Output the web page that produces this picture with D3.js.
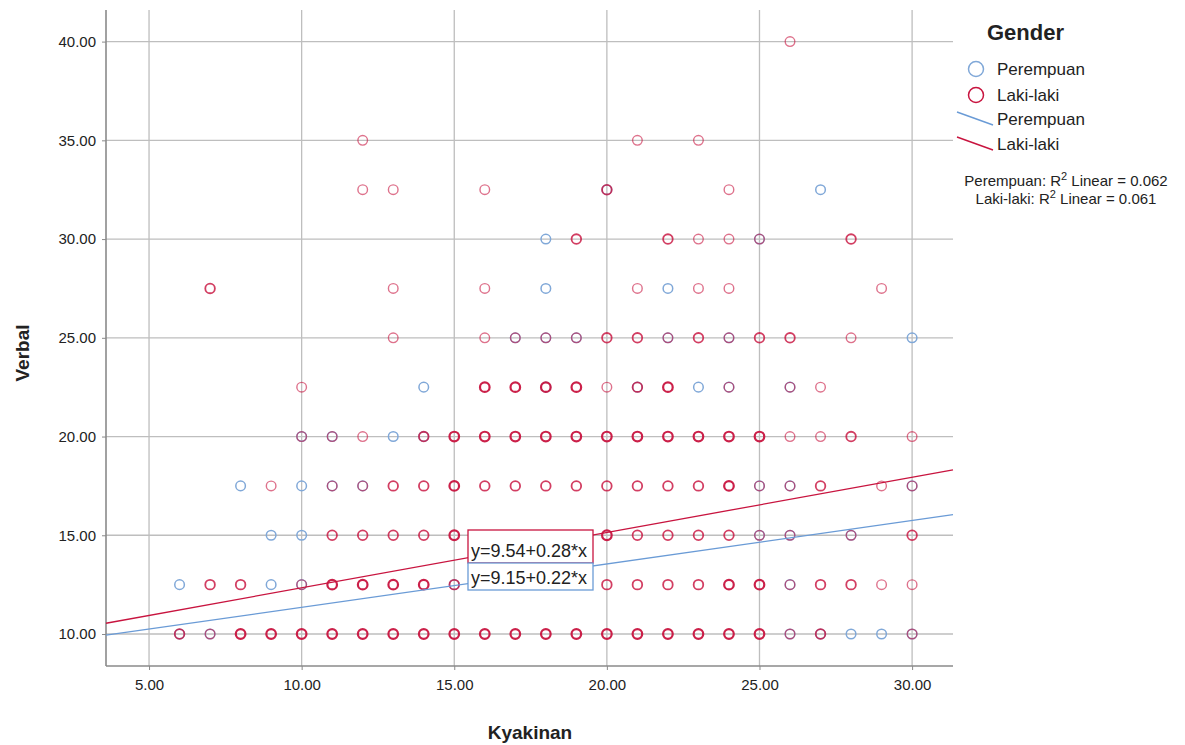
<!DOCTYPE html>
<html>
<head>
<meta charset="utf-8">
<script src="https://cdn.jsdelivr.net/npm/d3@7"></script>
<style>
  body { margin: 0; background: #fff; }
  text { font-family: Arial, "Liberation Sans", sans-serif; }
</style>
</head>
<body>
<svg id="chart" width="1185" height="745"></svg>
<script>
// Kyakinan (x) vs Verbal (y), split by gender
const xTicks = [5, 10, 15, 20, 25, 30];
const yTicks = [10, 15, 20, 25, 30, 35, 40];

// Perempuan points [x, y]
const femalePoints = [
  [6, 10], [7, 10], [26, 10], [27, 10], [28, 10], [29, 10], [30, 10],
  [6, 12.5], [9, 12.5], [10, 12.5], [15, 12.5], [26, 12.5],
  [9, 15], [10, 15], [25, 15], [26, 15], [28, 15],
  [8, 17.5], [10, 17.5], [11, 17.5], [12, 17.5], [25, 17.5], [26, 17.5], [30, 17.5],
  [10, 20], [11, 20], [13, 20], [14, 20],
  [14, 22.5], [18, 22.5], [21, 22.5], [23, 22.5], [24, 22.5], [26, 22.5],
  [17, 25], [18, 25], [19, 25], [22, 25], [24, 25], [30, 25],
  [18, 27.5], [22, 27.5],
  [18, 30], [25, 30],
  [20, 32.5], [27, 32.5]
];

// Laki-laki points [x, y, density 1..3 as seen]
const malePoints = [
  [6, 10, 2], [7, 10, 1], [8, 10, 3], [9, 10, 3], [10, 10, 3], [11, 10, 3], [12, 10, 3],
  [13, 10, 3], [14, 10, 3], [15, 10, 3], [16, 10, 3], [17, 10, 3], [18, 10, 3], [19, 10, 3],
  [20, 10, 3], [21, 10, 3], [22, 10, 3], [23, 10, 3], [24, 10, 3], [25, 10, 3], [26, 10, 1],
  [27, 10, 2], [30, 10, 1],
  [7, 12.5, 2], [8, 12.5, 2], [10, 12.5, 1], [11, 12.5, 3], [12, 12.5, 3], [13, 12.5, 3],
  [14, 12.5, 3], [15, 12.5, 2], [20, 12.5, 2], [21, 12.5, 2], [22, 12.5, 2], [23, 12.5, 2],
  [24, 12.5, 3], [25, 12.5, 3], [26, 12.5, 1], [27, 12.5, 2], [28, 12.5, 2], [29, 12.5, 1],
  [30, 12.5, 1],
  [11, 15, 2], [12, 15, 2], [13, 15, 2], [14, 15, 2], [15, 15, 3], [20, 15, 3], [21, 15, 2],
  [22, 15, 2], [23, 15, 2], [24, 15, 2], [25, 15, 1], [26, 15, 1], [28, 15, 1], [30, 15, 2],
  [9, 17.5, 1], [11, 17.5, 1], [12, 17.5, 1], [13, 17.5, 2], [14, 17.5, 2], [15, 17.5, 3],
  [16, 17.5, 2], [17, 17.5, 2], [18, 17.5, 2], [19, 17.5, 2], [20, 17.5, 2], [21, 17.5, 2],
  [22, 17.5, 2], [23, 17.5, 2], [24, 17.5, 3], [25, 17.5, 1], [26, 17.5, 1], [27, 17.5, 2],
  [29, 17.5, 1], [30, 17.5, 1],
  [10, 20, 1], [11, 20, 1], [12, 20, 1], [14, 20, 2], [15, 20, 3], [16, 20, 3], [17, 20, 3],
  [18, 20, 3], [19, 20, 3], [20, 20, 3], [21, 20, 3], [22, 20, 3], [23, 20, 3], [24, 20, 3],
  [25, 20, 3], [26, 20, 1], [27, 20, 1], [28, 20, 2], [30, 20, 1],
  [10, 22.5, 1], [16, 22.5, 3], [17, 22.5, 3], [18, 22.5, 3], [19, 22.5, 3], [20, 22.5, 1],
  [21, 22.5, 2], [22, 22.5, 3], [24, 22.5, 1], [26, 22.5, 1], [27, 22.5, 1],
  [13, 25, 1], [16, 25, 1], [17, 25, 1], [18, 25, 1], [19, 25, 1], [20, 25, 2], [21, 25, 2],
  [22, 25, 1], [23, 25, 2], [24, 25, 1], [25, 25, 2], [26, 25, 2], [28, 25, 1],
  [7, 27.5, 2], [13, 27.5, 1], [16, 27.5, 1], [21, 27.5, 1], [23, 27.5, 1], [24, 27.5, 1],
  [29, 27.5, 1],
  [19, 30, 2], [22, 30, 2], [23, 30, 1], [24, 30, 1], [25, 30, 1], [28, 30, 2],
  [12, 32.5, 1], [13, 32.5, 1], [16, 32.5, 1], [20, 32.5, 2], [24, 32.5, 1],
  [12, 35, 1], [21, 35, 1], [23, 35, 1],
  [26, 40, 1]
];

// fit lines
const fits = [
  { name: 'Laki-laki', a: 9.54, b: 0.28, label: 'y=9.54+0.28*x', r2: '0.061' },
  { name: 'Perempuan', a: 9.15, b: 0.22, label: 'y=9.15+0.22*x', r2: '0.062' }
];

const BLUE = '#80a8d8';
const BLUE_LINE = '#6a9bd6';
const RED = '#c8143f';

const PLOT = { left: 106, right: 953, top: 10, bottom: 666 };

const svg = d3.select('#chart');

const x = d3.scaleLinear().domain([3.59, 31.34]).range([PLOT.left, PLOT.right]);
const y = d3.scaleLinear().domain([8.38, 41.6]).range([PLOT.bottom, PLOT.top]);

// gridlines
svg.append('g').selectAll('line.gx')
    .data(xTicks)
    .join('line')
    .attr('x1', d => x(d)).attr('x2', d => x(d))
    .attr('y1', PLOT.top).attr('y2', PLOT.bottom)
    .attr('stroke', '#bebebe').attr('stroke-width', 1.3);
svg.append('g').selectAll('line.gy')
    .data(yTicks)
    .join('line')
    .attr('x1', PLOT.left).attr('x2', PLOT.right)
    .attr('y1', d => y(d)).attr('y2', d => y(d))
    .attr('stroke', '#bebebe').attr('stroke-width', 1.3);

// axes
let xAxis = svg.append('g')
    .attr('transform', 'translate(0,' + PLOT.bottom + ')')
    .call(d3.axisBottom(x).tickValues(xTicks).tickFormat(d3.format('.2f')).tickSize(4).tickSizeOuter(0));
let yAxis = svg.append('g')
    .attr('transform', 'translate(' + PLOT.left + ',0)')
    .call(d3.axisLeft(y).tickValues(yTicks).tickFormat(d3.format('.2f')).tickSize(4).tickSizeOuter(0));
[xAxis, yAxis].forEach(g => {
    g.select('.domain').attr('stroke', '#8a8a8a').attr('stroke-width', 1.6);
    g.selectAll('.tick line').attr('stroke', '#8a8a8a');
    g.selectAll('.tick text').attr('font-size', 15).attr('fill', '#222')
        .style('font-family', 'Arial, "Liberation Sans", sans-serif');
});
xAxis.selectAll('.tick text').attr('dy', '1.1em');
yAxis.selectAll('.tick text').attr('dx', '-0.2em');
xAxis.select('.domain').attr('d', 'M' + PLOT.left + ',0H' + PLOT.right);
yAxis.select('.domain').attr('d', 'M0,' + PLOT.top + 'V' + PLOT.bottom);

// points
svg.append('g').selectAll('circle')
    .data(femalePoints)
    .join('circle')
    .attr('cx', d => x(d[0])).attr('cy', d => y(d[1]))
    .attr('r', 4.8)
    .attr('fill', 'none')
    .attr('stroke', BLUE).attr('stroke-width', 1.5);

const maleOpacity = { 1: 0.6, 2: 0.82, 3: 0.95 };
const maleWidth = { 1: 1.4, 2: 1.8, 3: 2.2 };
svg.append('g').selectAll('circle')
    .data(malePoints)
    .join('circle')
    .attr('cx', d => x(d[0])).attr('cy', d => y(d[1]))
    .attr('r', 4.8)
    .attr('fill', 'none')
    .attr('stroke', RED)
    .attr('stroke-opacity', d => maleOpacity[d[2]])
    .attr('stroke-width', d => maleWidth[d[2]]);

// fit lines
const xd = x.domain();
fits.forEach(f => {
    svg.append('line')
        .attr('x1', x(xd[0])).attr('y1', y(f.a + f.b * xd[0]))
        .attr('x2', x(xd[1])).attr('y2', y(f.a + f.b * xd[1]))
        .attr('stroke', f.name === 'Laki-laki' ? RED : BLUE_LINE)
        .attr('stroke-width', 1.3);
});

// equation boxes
const boxes = [
    { fit: fits[0], top: 530, h: 33, base: 557, color: RED },
    { fit: fits[1], top: 563, h: 27, base: 584, color: BLUE_LINE }
];
boxes.forEach(b => {
    svg.append('rect')
        .attr('x', 468).attr('y', b.top).attr('width', 125).attr('height', b.h)
        .attr('fill', '#fff').attr('stroke', b.color).attr('stroke-width', 1.3);
    svg.append('text')
        .attr('x', 471).attr('y', b.base)
        .attr('font-size', 18).attr('fill', '#222')
        .text(b.fit.label);
});

// axis titles
svg.append('text')
    .attr('x', 530).attr('y', 739)
    .attr('text-anchor', 'middle')
    .attr('font-size', 19).attr('font-weight', 'bold').attr('fill', '#222')
    .text('Kyakinan');
svg.append('text')
    .attr('transform', 'translate(29,353) rotate(-90)')
    .attr('text-anchor', 'middle')
    .attr('font-size', 19).attr('font-weight', 'bold').attr('fill', '#222')
    .text('Verbal');

// legend
const legend = svg.append('g');
legend.append('text')
    .attr('x', 987).attr('y', 40)
    .attr('font-size', 22).attr('font-weight', 'bold').attr('fill', '#222')
    .text('Gender');
const legendItems = [
    { kind: 'circle', color: BLUE, label: 'Perempuan', y: 69 },
    { kind: 'circle', color: RED, label: 'Laki-laki', y: 95 },
    { kind: 'line', color: BLUE_LINE, label: 'Perempuan', y: 119 },
    { kind: 'line', color: RED, label: 'Laki-laki', y: 144 }
];
legendItems.forEach(it => {
    if (it.kind === 'circle') {
        legend.append('circle')
            .attr('cx', 976).attr('cy', it.y).attr('r', 7.5)
            .attr('fill', 'none').attr('stroke', it.color).attr('stroke-width', 1.5);
    } else {
        legend.append('line')
            .attr('x1', 957).attr('y1', it.y - 7)
            .attr('x2', 993).attr('y2', it.y + 6)
            .attr('stroke', it.color).attr('stroke-width', 1.4);
    }
    legend.append('text')
        .attr('x', 997).attr('y', it.y + 6)
        .attr('font-size', 17).attr('fill', '#222')
        .text(it.label);
});

// R squared notes
const r2Lines = [fits[1], fits[0]];
r2Lines.forEach((f, i) => {
    let t = legend.append('text')
        .attr('x', 1066).attr('y', 186 + i * 18)
        .attr('text-anchor', 'middle')
        .attr('font-size', 15).attr('fill', '#222');
    t.append('tspan').text(f.name + ': R');
    t.append('tspan').attr('dy', -6).attr('font-size', 11).text('2');
    t.append('tspan').attr('dy', 6).text(' Linear = ' + f.r2);
});
</script>
</body>
</html>
